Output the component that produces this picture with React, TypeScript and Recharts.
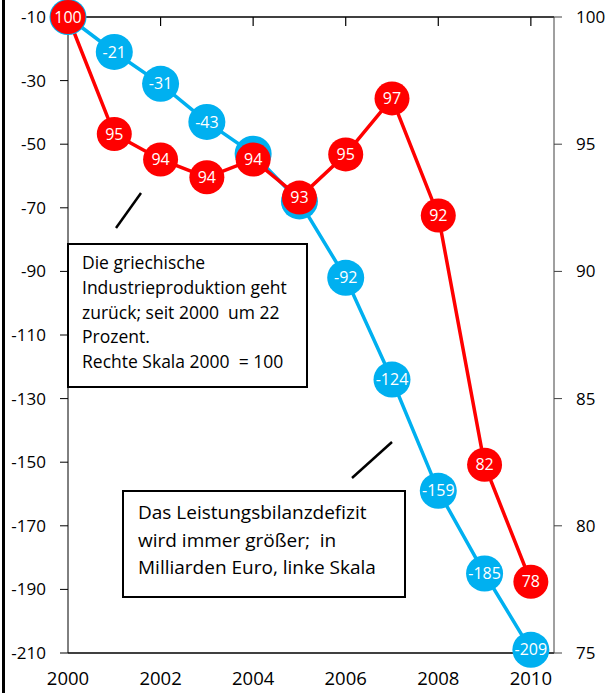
import React from 'react';
import { LineChart, Line, XAxis, YAxis } from 'recharts';

const years = [2000, 2001, 2002, 2003, 2004, 2005, 2006, 2007, 2008, 2009, 2010];
// Leistungsbilanzdefizit, Mrd Euro (linke Skala)
const deficit = [-10, -21, -31, -43, -53, -68, -92, -124, -159, -185, -209];
// Industrieproduktion, 2000 = 100 (rechte Skala)
const production = [100, 95.4, 94.4, 93.7, 94.4, 92.9, 94.6, 96.8, 92.2, 82.4, 77.8];

const leftTicks = [-10, -30, -50, -70, -90, -110, -130, -150, -170, -190, -210];
const rightTicks = [75, 80, 85, 90, 95, 100];
const yearTicks = [2000, 2002, 2004, 2006, 2008, 2010];
const topTicks = [2002, 2004, 2006, 2008, 2010];

const note1 = ['Die griechische', 'Industrieproduktion geht', 'zurück; seit 2000  um 22', 'Prozent.', 'Rechte Skala 2000  = 100'];
const note2 = ['Das Leistungsbilanzdefizit', 'wird immer größer;  in', 'Milliarden Euro, linke Skala'];

const data = years.map((year, i) => ({ year, deficit: deficit[i], production: production[i] }));

const FONT = '"Open Sans", sans-serif';

const makeDot = (fill: string, rx: number, ry: number) => (props: any) => {
  const { cx, cy, value, index } = props;
  if (cx == null || cy == null) return <g key={index} />;
  return (
    <g key={index}>
      <ellipse cx={cx} cy={cy} rx={rx} ry={ry} fill={fill} />
      <text x={cx} y={cy} dy="0.35em" textAnchor="middle" fill="#fff" fontSize={16} fontFamily={FONT}>
        {Math.round(value)}
      </text>
    </g>
  );
};

// small ticks hanging down from the top axis line
const TopTick = (props: any) => {
  const { x, y, index } = props;
  return <line key={index} x1={x} x2={x} y1={y} y2={y + 9} stroke="#000" strokeWidth={1.2} />;
};

const boxStyle: React.CSSProperties = {
  position: 'absolute',
  background: '#fff',
  border: '2px solid #000',
  boxSizing: 'border-box',
  fontFamily: FONT,
  color: '#000',
  whiteSpace: 'pre',
};

const App: React.FC = () => {
  return (
    <div style={{ position: 'absolute', left: 0, top: 0, width: 610, height: 693, background: '#fff' }}>
      <LineChart width={610} height={693} data={data} margin={{ top: 0, right: 0, bottom: 0, left: 0 }}>
        <XAxis
          dataKey="year"
          type="number"
          domain={[2000, 2010.5]}
          ticks={yearTicks}
          axisLine={{ stroke: '#000', strokeWidth: 1.5 }}
          tickLine={false}
          tick={{ fill: '#000', fontSize: 18.5, fontFamily: FONT }}
          tickMargin={13}
          height={40}
        />
        <XAxis
          xAxisId="top"
          dataKey="year"
          type="number"
          orientation="top"
          domain={[2000, 2010.5]}
          ticks={topTicks}
          axisLine={{ stroke: '#000', strokeWidth: 1.5 }}
          tickLine={false}
          tickSize={0}
          tickMargin={0}
          tick={<TopTick />}
          height={17}
        />
        <YAxis
          yAxisId="left"
          domain={[-210, -10]}
          ticks={leftTicks}
          interval={0}
          width={68}
          axisLine={{ stroke: '#000' }}
          tickLine={{ stroke: '#000' }}
          tickSize={8}
          tickMargin={14}
          tick={{ fill: '#000', fontSize: 17, fontFamily: FONT }}
        />
        <YAxis
          yAxisId="right"
          orientation="right"
          domain={[75, 100]}
          ticks={rightTicks}
          interval={0}
          width={56}
          axisLine={{ stroke: '#404040' }}
          tickLine={{ stroke: '#404040' }}
          tickSize={8}
          tickMargin={14}
          tick={{ fill: '#000', fontSize: 17, fontFamily: FONT }}
        />
        <Line
          yAxisId="left"
          dataKey="deficit"
          stroke="#00B0F0"
          strokeWidth={3.5}
          dot={makeDot('#00B0F0', 18.5, 18)}
          isAnimationActive={false}
        />
        <Line
          yAxisId="right"
          dataKey="production"
          stroke="#FF0000"
          strokeWidth={3.5}
          dot={makeDot('#FF0000', 17.5, 17)}
          isAnimationActive={false}
        />
      </LineChart>

      <div style={{ position: 'absolute', left: 2, top: 0, width: 3, height: 693, background: '#000' }} />

      <svg width={610} height={693} style={{ position: 'absolute', left: 0, top: 0, pointerEvents: 'none' }}>
        <line x1={116} y1={228} x2={141} y2={193} stroke="#000" strokeWidth={2.5} />
        <line x1={352} y1={478} x2={392} y2={442} stroke="#000" strokeWidth={2.5} />
      </svg>

      <div style={{ ...boxStyle, left: 67, top: 243, width: 241, height: 145, padding: '5px 0 0 13px', fontSize: 17.5, lineHeight: '24.8px' }}>
        {note1.join('\n')}
      </div>
      <div style={{ ...boxStyle, left: 122, top: 490, width: 284, height: 108, padding: '7px 0 0 14px', fontSize: 19, lineHeight: '27.5px' }}>
        {note2.join('\n')}
      </div>
    </div>
  );
};

export default App;
